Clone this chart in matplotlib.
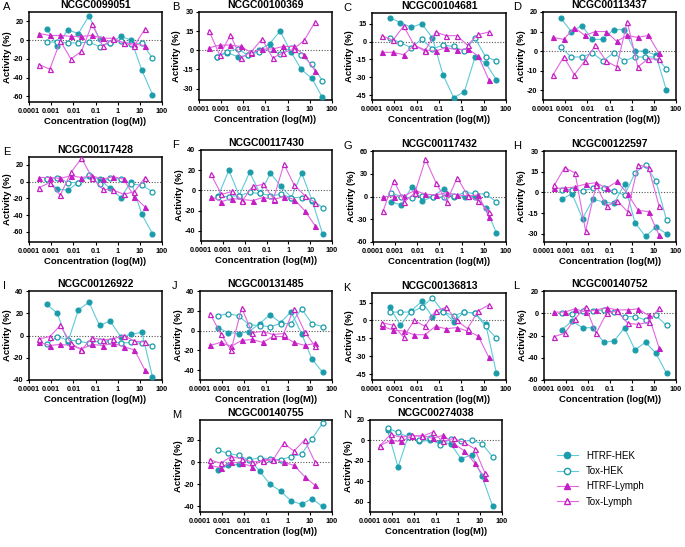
import numpy as np
import matplotlib
matplotlib.use("Agg")
import matplotlib.pyplot as plt
from matplotlib.lines import Line2D

plt.rcParams['font.family'] = ['Liberation Sans', 'DejaVu Sans']

W, H = 685, 547
DPI = 100

# concentrations (log scale, 3-fold dilution)
conc_hek = [0.000627, 0.00188, 0.00564, 0.0169, 0.0508, 0.152, 0.457, 1.37, 4.11, 12.3, 37.0]
conc_lymph = [0.000288, 0.000864, 0.00259, 0.00778, 0.0233, 0.070, 0.21, 0.63, 1.89, 5.67, 17.0]

xticks = [0.0001, 0.001, 0.01, 0.1, 1, 10, 100]
xticklabels = ["0.0001", "0.001", "0.01", "0.1", "1", "10", "100"]

letters = list("ABCDEFGHIJKLMN")
titles = ["NCGC0099051", "NCGC00100369", "NCGC00104681", "NCGC00113437",
          "NCGC00117428", "NCGC00117430", "NCGC00117432", "NCGC00122597",
          "NCGC00126922", "NCGC00131485", "NCGC00136813", "NCGC00140752",
          "NCGC00140755", "NCGC00274038"]

htrf_hek = [
    [12, -6, 11, 7, 26, 1, -3, 4, 0, -32, -58],
    [-5, -2, -5, -4, 0, 5, 15, -1, -15, -22, -37],
    [20, 16, 12, 15, 3, -28, -47, -42, -13, -18, -32],
    [17, 10, 13, 6, 6, 11, 11, 0, 0, -2, -20],
    [3, -9, -10, -1, 7, 3, -8, -19, 0, -39, -62],
    [-5, 20, -5, 18, -3, 17, 4, -7, 17, -10, -43],
    [-7, -11, 13, -6, 0, 10, -1, 0, 0, -15, -48],
    [-5, -1, -19, -5, -7, -8, 6, -22, -32, -25, -30],
    [28, 20, -6, 23, 30, 9, 13, -1, 1, 3, -37],
    [3, -2, -3, -1, 7, 16, 8, 19, -3, -29, -42],
    [11, -4, 8, 16, 3, 8, -1, 7, 6, -3, -44],
    [-15, -7, -13, -13, -26, -25, -13, -33, -26, -36, -54],
    [-7, -3, -2, 3, -8, -20, -26, -35, -38, -33, -40],
    [10, -26, 5, -1, 0, -2, -3, -18, -14, -35, -64],
]
tox_hek = [
    [-2, -2, -3, -3, -2, -7, -3, -1, -4, -3, -19],
    [-5, -1, 1, -4, -1, 1, -3, 2, -4, -11, -24],
    [3, -1, -5, 2, -6, -3, -4, -8, 3, -13, -16],
    [2, -3, -3, -1, -5, -1, -5, -3, -3, -3, -9],
    [3, 5, -1, -1, 8, -3, 5, 3, -3, -4, -12],
    [-6, -6, -5, -2, -3, -5, -4, -7, -7, -9, -17],
    [5, 0, -2, 1, 0, -1, 1, 5, 4, 3, -7],
    [2, 2, 1, 3, 3, 1, -2, 14, 20, 8, -20],
    [-8, -1, -4, -5, -7, -5, -5, -7, -6, -7, -9],
    [15, 17, 15, 6, 5, 4, 7, 7, 22, 7, 4],
    [7, 7, 7, 11, 19, 7, 4, 7, 6, -5, -15],
    [0, -1, 2, 2, 3, 1, -3, -3, -6, -2, -11],
    [11, 8, 6, 2, 4, 3, 2, 5, 7, 21, 35],
    [12, 8, 3, 0, 2, -4, 1, -1, 0, -3, -16],
]
htrf_lymph = [
    [7, 5, 5, 4, 4, 5, 2, 2, -3, -4, -6],
    [2, 4, 4, 3, -2, 1, 1, 3, 3, -4, -16],
    [-9, -9, -11, -3, -7, -8, -5, -7, -6, -12, -32],
    [7, 6, 12, 8, 10, 10, 5, 8, 7, 8, -1],
    [5, 5, 4, 7, 5, 7, 3, 6, 3, -18, -30],
    [-6, -11, -8, -9, -10, -7, -9, -6, -9, -20, -35],
    [0, 0, 1, 8, 3, 2, 5, 2, 1, 2, -27],
    [3, 3, 4, 6, 7, 3, 8, -1, -13, -14, -31],
    [-6, -9, -8, -9, -12, -8, -9, -7, -10, -13, -31],
    [-15, -12, -16, -10, -9, -12, -6, -6, -12, -15, -13],
    [-5, -8, -9, -12, -12, -5, -7, -6, -9, -13, -31],
    [1, 1, 4, 1, 3, 5, 3, 3, 4, -2, -31],
    [-3, -5, 0, -1, -4, 2, 3, 0, -3, -13, -21],
    [-5, 0, -1, 4, 5, 2, 5, -3, -10, -22, -37],
]
tox_lymph = [
    [-26, -31, -1, -20, -12, 17, -6, 1, -3, -6, 12],
    [15, -4, 12, -6, -1, 9, -6, -2, 1, 8, 22],
    [5, 1, 13, -3, -8, 8, 5, 5, -3, 6, 8],
    [-12, -3, -12, -5, 3, -5, -8, 15, -8, -4, -4],
    [-7, -1, -16, 11, 28, 5, -9, -10, -15, -12, 5],
    [16, -4, -1, -10, 4, 6, -8, 26, 5, -5, -12],
    [-19, 21, -7, 5, 49, 18, -7, 25, 1, -6, -20],
    [5, 18, 14, -28, 5, -10, -6, -14, 20, 18, -10],
    [-3, -1, 9, -7, -13, -2, -4, -3, 0, -5, -6],
    [17, -3, -20, 23, -2, -1, -4, -3, 22, -1, -16],
    [-2, -4, -14, 0, -5, 8, 11, 0, -7, 8, 13],
    [-21, -18, -5, 6, -18, 0, 2, -9, -10, -8, 5],
    [2, -1, 5, 3, 0, 1, 2, 17, 10, 20, 0],
    [-5, 6, 3, 5, 4, 8, -1, 2, -2, -8, -32],
]

ylims = [(-66, 30), (-39, 30), (-49, 24), (-25, 20),
         (-72, 29.5), (-50, 40), (-60, 60), (-36, 30),
         (-40, 40), (-50, 40), (-50, 23), (-60, 20),
         (-45, 38), (-70, 20)]
yticks = [[-60, -40, -20, 0, 20], [-30, -15, 0, 15, 30], [-45, -30, -15, 0, 15], [-20, -10, 0, 10, 20],
          [-60, -40, -20, 0, 20], [-40, -20, 0, 20, 40], [-60, -30, 0, 30, 60], [-30, -15, 0, 15, 30],
          [-40, -20, 0, 20, 40], [-40, -20, 0, 20, 40], [-45, -30, -15, 0, 15], [-60, -40, -20, 0, 20],
          [-40, -20, 0, 20], [-60, -40, -20, 0, 20]]

# axes boxes in pixels: (left, top, right, bottom)
boxes = [(29, 12, 162, 102), (199, 12, 332, 100), (372, 13, 506, 100), (543, 12, 676, 100),
         (29, 157, 162, 242), (201, 150, 332, 241), (373, 151, 506, 242), (544, 151, 676, 242),
         (29, 291, 162, 380), (200, 291, 332, 380), (372, 293, 506, 380), (544, 291, 676, 380),
         (200, 420, 332, 512), (370, 420, 502, 512)]
letter_x = [3, 172, 343, 513]

TEAL = "#1b9cab"
TEAL_L = "#5fcad8"
MAG = "#c41ec4"
MAG_L = "#e266e2"

fig = plt.figure(figsize=(W / DPI, H / DPI), dpi=DPI)

def px_axes(l, t, r, b):
    return fig.add_axes([l / W, 1 - b / H, (r - l) / W, (b - t) / H])

ms = 3.6
for i in range(14):
    l, t, r, b = boxes[i]
    ax = px_axes(l, t, r, b)
    ax.set_xscale('log')
    ax.set_xlim(0.0001, 100)
    ax.set_ylim(*ylims[i])
    ax.axhline(0, color='#555555', lw=0.8, ls=(0, (1, 1.5)), zorder=1)
    ax.plot(conc_hek, htrf_hek[i], '-o', color=TEAL_L, lw=0.8, ms=ms,
            mfc=TEAL, mec=TEAL, mew=0.8, zorder=3)
    ax.plot(conc_hek, tox_hek[i], '-o', color=TEAL_L, lw=0.8, ms=ms,
            mfc='white', mec=TEAL, mew=0.9, zorder=3)
    ax.plot(conc_lymph, htrf_lymph[i], '-^', color=MAG_L, lw=0.8, ms=ms,
            mfc=MAG, mec=MAG, mew=0.8, zorder=3)
    ax.plot(conc_lymph, tox_lymph[i], '-^', color=MAG_L, lw=0.8, ms=ms,
            mfc='white', mec=MAG, mew=0.9, zorder=3)
    ax.set_xticks(xticks)
    ax.set_xticklabels(xticklabels)
    ax.xaxis.set_minor_locator(matplotlib.ticker.NullLocator())
    ax.set_yticks(yticks[i])
    ax.set_yticklabels([str(v) for v in yticks[i]])
    ax.tick_params(labelsize=5.2, length=2.5, width=0.8, pad=1.5)
    for lab in ax.get_xticklabels() + ax.get_yticklabels():
        lab.set_fontweight('bold')
    for s in ax.spines.values():
        s.set_linewidth(1.1)
    ax.set_title(titles[i], fontsize=7.5, fontweight='bold', pad=3)
    ax.set_xlabel("Concentration (log(M))", fontsize=6.8, fontweight='bold', labelpad=2)
    ax.set_ylabel("Activity (%)", fontsize=6.8, fontweight='bold', labelpad=1)
    # panel letter
    if i < 12:
        lx = letter_x[i % 4]
    else:
        lx = [172, 343][i - 12]
    fig.text(lx / W, 1 - (t - 5) / H, letters[i], fontsize=8, ha='left', va='center')

# legend
handles = [
    Line2D([], [], color=TEAL_L, marker='o', mfc=TEAL, mec=TEAL, ms=4.5, lw=0.8),
    Line2D([], [], color=TEAL_L, marker='o', mfc='white', mec=TEAL, ms=4.5, lw=0.8),
    Line2D([], [], color=MAG_L, marker='^', mfc=MAG, mec=MAG, ms=4.5, lw=0.8),
    Line2D([], [], color=MAG_L, marker='^', mfc='white', mec=MAG, ms=4.5, lw=0.8),
]
labels = ["HTRF-HEK", "Tox-HEK", "HTRF-Lymph", "Tox-Lymph"]
fig.legend(handles, labels, loc='upper left', bbox_to_anchor=(548 / W, 1 - 442 / H),
           frameon=False, fontsize=7, handlelength=2.2, labelspacing=0.55)

fig.savefig("out.png", dpi=DPI)
